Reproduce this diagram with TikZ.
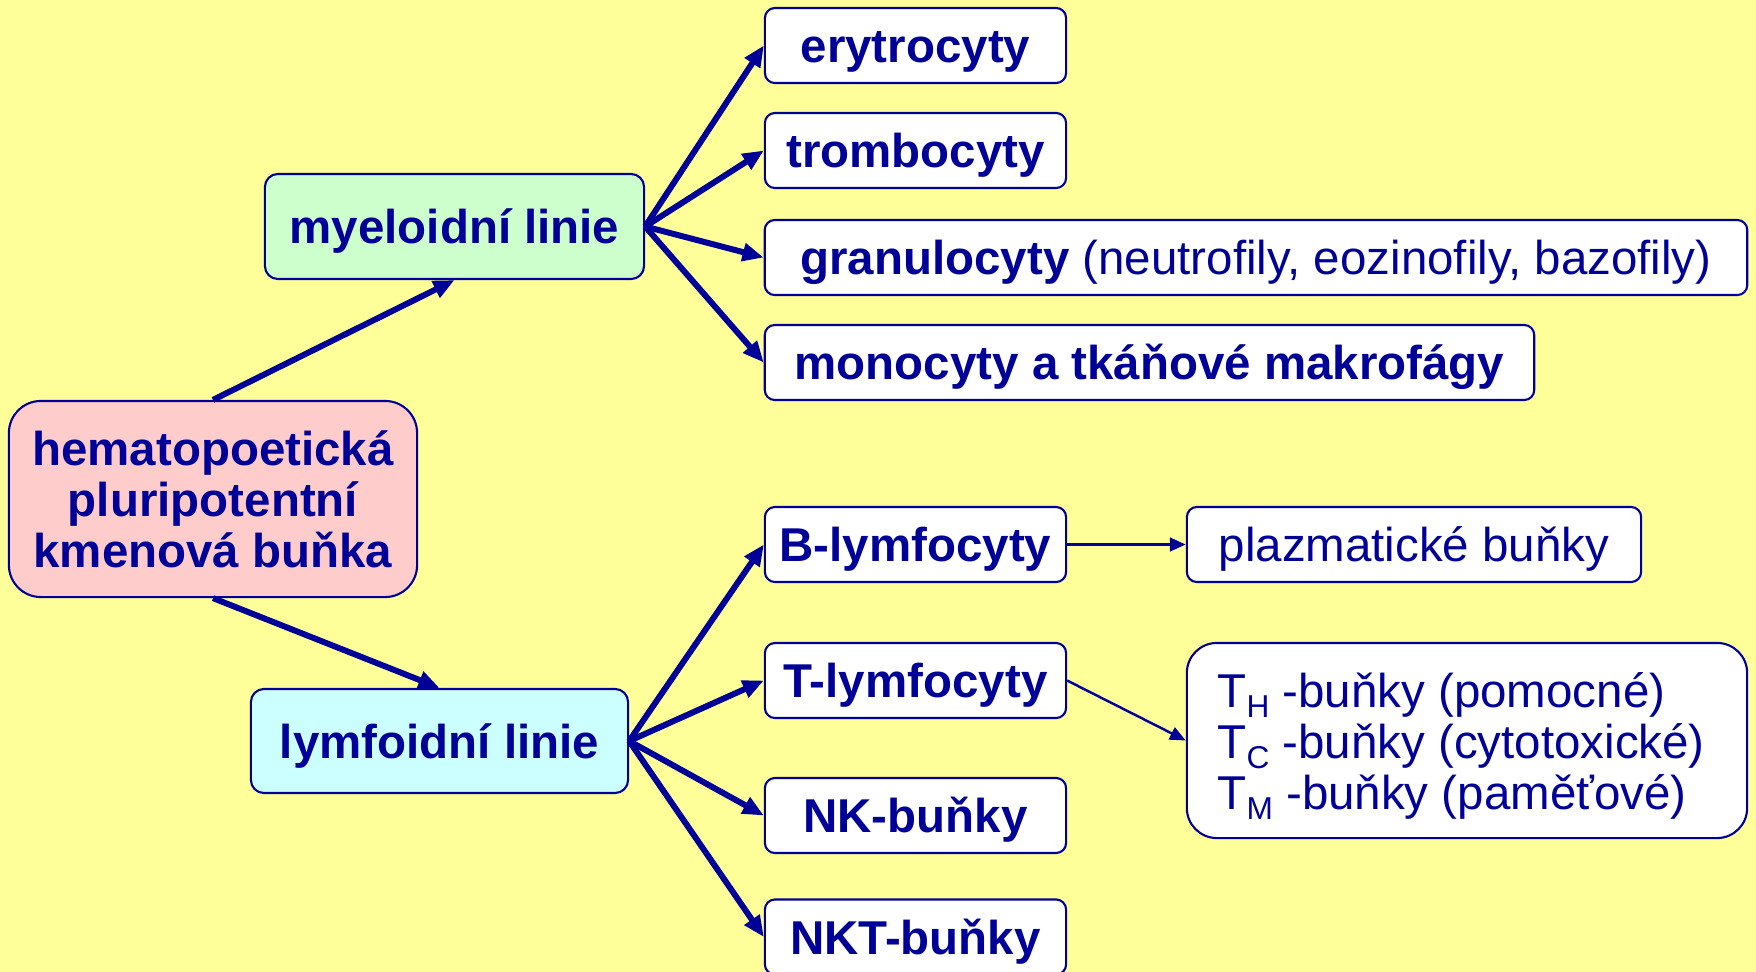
\documentclass[tikz,border=0pt]{standalone}
\usepackage{fontspec}
\setmainfont{Liberation Sans}
\usetikzlibrary{arrows.meta}
\definecolor{bg}{HTML}{FFFF99}
\definecolor{navy}{HTML}{000099}
\definecolor{pinkfill}{HTML}{FFCCCC}
\definecolor{greenfill}{HTML}{CCFFCC}
\definecolor{cyanfill}{HTML}{CCFFFF}
\newcommand{\sub}[1]{\raisebox{-3pt}{\fontsize{9}{9}\selectfont #1}}
\tikzset{
  framebox/.style={draw=navy, line width=0.6pt, fill=white, rounded corners=0.1cm,
    text=navy, inner sep=0pt, minimum height=0.75cm,
    font=\fontsize{13.5}{14.5}\selectfont\bfseries},
  cellbox/.style={framebox, text height=11pt, text depth=1.2pt},
  smallcell/.style={cellbox, minimum width=3.01cm},
  linebox/.style={cellbox, rounded corners=0.13cm},
  thickarrow/.style={draw=navy, line width=1.7pt, -{Triangle[length=6pt,width=5pt]}},
  thinarrow/.style={draw=navy, line width=0.85pt, -{Triangle[length=4.5pt,width=3.8pt]}},
}
\begin{document}
\begin{tikzpicture}[x=0.01cm, y=-0.01cm]
  \clip (0,0) rectangle (1756,972);
  \fill[bg] (0,0) rectangle (1756,972);

  % stem cell and the two lineages
  \node[framebox, fill=pinkfill, rounded corners=0.32cm, align=center,
        minimum width=4.08cm, minimum height=1.96cm] (stem) at (213,499)
        {hematopoetická\\pluripotentní\\kmenová buňka};
  \node[linebox, fill=greenfill, minimum width=3.79cm, minimum height=1.05cm]
        (mye) at (454.5,226.5) {myeloidní linie};
  \node[linebox, fill=cyanfill, minimum width=3.77cm, minimum height=1.04cm]
        (lym) at (439.5,741) {lymfoidní linie};

  % myeloid cells
  \node[smallcell] (ery) at (915.5,45.5) {erytrocyty};
  \node[smallcell] (tro) at (915.5,150.5) {trombocyty};
  \node[cellbox, minimum width=9.82cm] (gra) at (1256,257.5)
        {granulocyty \mdseries(neutrofily, eozinofily, bazofily)};
  \node[cellbox, minimum width=7.69cm] (mon) at (1149.5,362.5)
        {monocyty a tkáňové makrofágy};

  % lymphoid cells
  \node[smallcell] (bly) at (915.5,544.5) {B-lymfocyty};
  \node[smallcell] (tly) at (915.5,680.5) {T-lymfocyty};
  \node[smallcell] (nk)  at (915.5,815.5) {NK-buňky};
  \node[smallcell] (nkt) at (915.5,937) {NKT-buňky};

  \node[cellbox, font=\fontsize{13.5}{14.5}\selectfont, minimum width=4.54cm]
        (pla) at (1414,544.5) {plazmatické buňky};
  \node[framebox, rounded corners=0.3cm, minimum width=5.6cm, minimum height=1.95cm]
        (tsub) at (1467,740.5) {};
  \node[text=navy, inner sep=0pt, align=left, anchor=west,
        font=\fontsize{13.5}{14.5}\selectfont]
        (tsubtext) at (1217,746) 
        {T\sub{H} -buňky (pomocné)\\T\sub{C} -buňky (cytotoxické)\\T\sub{M} -buňky (paměťové)};

  % connectors
  \draw[thickarrow] (stem.north) -- (mye.south);
  \draw[thickarrow] (stem.south) -- (lym.north);
  \foreach \t in {ery,tro,gra,mon} \draw[thickarrow] (mye.east) -- (\t.west);
  \foreach \t in {bly,tly,nk,nkt} \draw[thickarrow] (lym.east) -- (\t.west);
  \draw[thinarrow] (bly.east) -- (pla.west);
  \draw[thinarrow, line width=0.7pt] (tly.east) -- (tsub.west);
\end{tikzpicture}
\end{document}
